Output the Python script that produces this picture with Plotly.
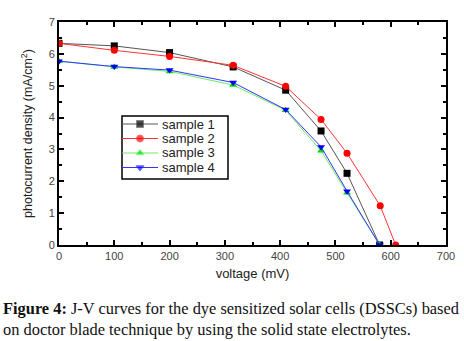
import plotly.graph_objects as go

voltage_1 = [0, 100, 200, 315, 410, 474, 521, 580]
sample_1 = [6.33, 6.25, 6.04, 5.59, 4.86, 3.58, 2.25, 0.0]
voltage_2 = [0, 100, 200, 315, 410, 474, 521, 581, 609]
sample_2 = [6.33, 6.11, 5.92, 5.64, 4.98, 3.94, 2.88, 1.23, 0.0]
voltage_3 = [0, 100, 200, 315, 410, 474, 521, 580]
sample_3 = [5.77, 5.59, 5.45, 5.02, 4.23, 2.96, 1.64, 0.0]
voltage_4 = [0, 100, 200, 315, 410, 474, 521, 580]
sample_4 = [5.77, 5.60, 5.49, 5.10, 4.25, 3.08, 1.69, 0.0]

names = ["sample 1", "sample 2", "sample 3", "sample 4"]
x_ticks = [0, 100, 200, 300, 400, 500, 600, 700]
y_ticks = [0, 1, 2, 3, 4, 5, 6, 7]

marker_colors = ["#000000", "#ff0000", "#00dd00", "#0000ff"]
line_colors = ["#555555", "#ff3333", "#66ee66", "#3333ff"]
symbols = ["square", "circle", "triangle-up", "triangle-down"]

xs_all = [voltage_1, voltage_2, voltage_3, voltage_4]
ys_all = [sample_1, sample_2, sample_3, sample_4]

fig = go.Figure()
for name, xs, ys, mcol, lcol, sym in zip(names, xs_all, ys_all, marker_colors, line_colors, symbols):
    fig.add_trace(go.Scatter(
        x=xs, y=ys, name=name, mode="lines+markers",
        line=dict(color=lcol, width=1),
        marker=dict(color=mcol, symbol=sym, size=7),
        showlegend=False,
    ))

# compact legend drawn on an overlay axis spanning the plot area (0..1)
leg_x = [0.163, 0.2093, 0.2558]
leg_rows = [0.5426, 0.4776, 0.4126, 0.3475]
for name, row, mcol, lcol, sym in zip(names, leg_rows, marker_colors, line_colors, symbols):
    fig.add_trace(go.Scatter(
        x=leg_x, y=[row] * 3, xaxis="x2", yaxis="y2", mode="lines+markers",
        line=dict(color=lcol, width=1),
        marker=dict(color=mcol, symbol=sym, size=[0, 7, 0]),
        showlegend=False, hoverinfo="skip",
    ))

def axis_common():
    return dict(
        showline=True, linecolor="black", linewidth=2, mirror="ticks",
        ticks="inside", ticklen=5, tickwidth=2, tickcolor="black",
        showgrid=False, zeroline=False, automargin=False,
        tickfont=dict(family="Liberation Sans, Arial", size=11, color="#444444"),
    )

xaxis = axis_common()
xaxis.update(
    range=[0, 700], tickvals=x_ticks, ticktext=[str(v) for v in x_ticks],
    minor=dict(ticks="inside", ticklen=3, tickwidth=2, tickcolor="black", dtick=50, showgrid=False),
    title=dict(text="voltage (mV)", font=dict(family="Liberation Sans, Arial", size=13, color="#222222"), standoff=8),
)
yaxis = axis_common()
yaxis.update(
    range=[0, 7], tickvals=y_ticks, ticktext=[str(v) for v in y_ticks],
    minor=dict(ticks="inside", ticklen=3, tickwidth=2, tickcolor="black", dtick=0.5, showgrid=False),
    title=dict(text="photocurrent density (mA/cm<sup>2</sup>)", font=dict(family="Liberation Sans, Arial", size=12.5, color="#222222"), standoff=13),
)

legend_text = [
    dict(xref="paper", yref="paper", x=0.2636, y=row, xanchor="left", yanchor="middle",
         text=name, showarrow=False, borderpad=0,
         font=dict(family="Liberation Sans, Arial", size=13, color="#222222"))
    for name, row in zip(names, leg_rows)
]

fig.update_layout(
    width=464, height=341,
    margin=dict(l=59, r=18, t=22, b=96),
    plot_bgcolor="white", paper_bgcolor="white",
    showlegend=False,
    xaxis=xaxis, yaxis=yaxis,
    xaxis2=dict(overlaying="x", anchor="y2", range=[0, 1], visible=False, fixedrange=True),
    yaxis2=dict(overlaying="y", anchor="x2", range=[0, 1], visible=False, fixedrange=True),
    shapes=[dict(type="rect", xref="paper", yref="paper", x0=0.1628, x1=0.4367, y0=0.296, y1=0.5785,
                 line=dict(color="black", width=1.5), fillcolor="white", layer="below")],
    annotations=legend_text + [
        dict(
            xref="paper", yref="paper", x=-0.149, y=-0.232, xanchor="left", yanchor="top",
            align="left", showarrow=False,
            text="<b>Figure 4:</b> J-V curves for the dye sensitized solar cells (DSSCs) based<br>on doctor blade technique by using the solid state electrolytes.",
            font=dict(family="Liberation Serif, Times New Roman", size=16.4, color="#111111"),
        )
    ],
)

fig.write_html("out.html", config={"displayModeBar": False},
               post_script="document.body.style.margin='0px';document.body.style.padding='0px';")
